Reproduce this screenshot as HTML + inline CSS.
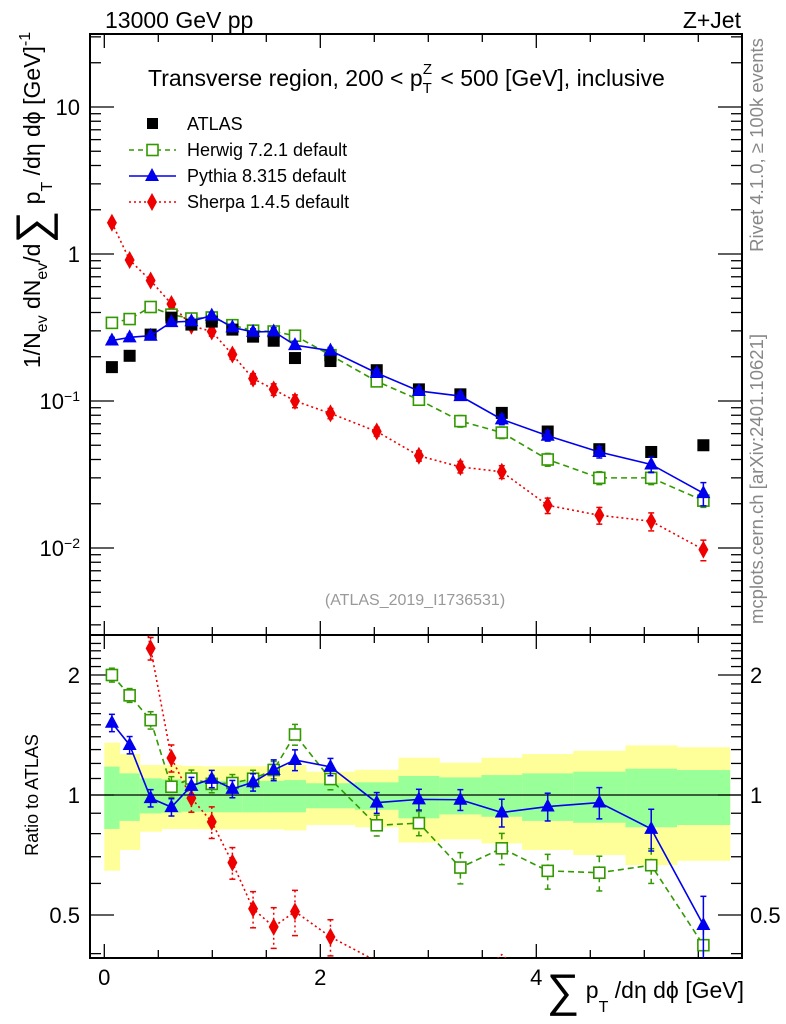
<!DOCTYPE html>
<html><head><meta charset="utf-8"><style>
html,body{margin:0;padding:0;background:#fff;width:786px;height:1024px;overflow:hidden;position:relative;}
svg{display:block;font-family:"Liberation Sans",sans-serif;}
</style></head><body>
<svg id="c" width="786" height="1024" viewBox="0 0 786 1024"></svg>
<script>
const edges=[0,0.141,0.328,0.530,0.713,0.9,1.09,1.282,1.473,1.664,1.867,2.321,2.724,3.102,3.492,3.869,4.342,4.825,5.303,5.791];
const atlas=[0.170,0.203,0.283,0.369,0.331,0.347,0.306,0.274,0.257,0.196,0.187,0.162,0.120,0.111,0.083,0.062,0.047,0.045,0.050];
const herwig=[0.340,0.361,0.436,0.387,0.364,0.370,0.328,0.301,0.297,0.278,0.205,0.136,0.102,0.073,0.061,0.040,0.030,0.030,0.021];
const pythia=[0.258,0.271,0.278,0.344,0.349,0.381,0.317,0.295,0.297,0.240,0.220,0.155,0.117,0.108,0.075,0.058,0.045,0.037,0.0236];
const sherpa=[1.63,0.91,0.66,0.457,0.325,0.297,0.207,0.142,0.120,0.100,0.0824,0.062,0.0424,0.0356,0.033,0.0195,0.0167,0.0152,0.00975];
const herwigErr=[0.04,0.04,0.05,0.06,0.05,0.05,0.05,0.05,0.05,0.06,0.06,0.06,0.07,0.09,0.09,0.10,0.10,0.10,0.10];
const pythiaErr=[0.05,0.05,0.05,0.05,0.05,0.05,0.05,0.05,0.06,0.06,0.05,0.06,0.06,0.06,0.08,0.08,0.09,0.12,0.18];
const sherpaErr=[0.05,0.05,0.05,0.06,0.06,0.07,0.07,0.08,0.09,0.10,0.08,0.07,0.08,0.09,0.10,0.12,0.13,0.14,0.16];
const bandYHi=[1.353,1.267,1.189,1.189,1.183,1.18,1.18,1.18,1.18,1.189,1.144,1.157,1.24,1.205,1.24,1.267,1.291,1.332,1.318];
const bandGHi=[1.178,1.133,1.101,1.095,1.086,1.085,1.085,1.085,1.085,1.09,1.07,1.076,1.116,1.107,1.122,1.133,1.144,1.164,1.155];
const bandGLo=[0.822,0.861,0.899,0.903,0.908,0.905,0.905,0.905,0.905,0.905,0.926,0.918,0.874,0.894,0.882,0.861,0.852,0.83,0.841];
const bandYLo=[0.646,0.728,0.809,0.822,0.822,0.82,0.82,0.82,0.82,0.815,0.841,0.83,0.76,0.774,0.756,0.728,0.707,0.667,0.684];
const xTicks=[0,2,4];
const yTicksTop=[10,1,0.1,0.01];
const yTickLabelsTop=["10","1","10<tspan dy='-8' font-size='14'>−1</tspan>","10<tspan dy='-8' font-size='14'>−2</tspan>"];
const yTicksRatio=[2,1,0.5];

const svg=document.getElementById('c');
const NS='http://www.w3.org/2000/svg';
const L=90,R=742,T1=34,B1=635,T2=635,B2=958;
const X=v=>104.3+108*v;
const Y1=v=>254-147*Math.log10(v);
const Y2=r=>795-120*Math.log2(r);
function mk(tag,attrs,parent){const e=document.createElementNS(NS,tag);for(const k in attrs)e.setAttribute(k,attrs[k]);(parent||svg).appendChild(e);return e;}
const mids=edges.slice(0,-1).map((e,i)=>(e+edges[i+1])/2);

const defs=mk('defs',{});
const cp1=mk('clipPath',{id:'cp1'},defs);mk('rect',{x:L,y:T1,width:R-L,height:B1-T1},cp1);
const cp2=mk('clipPath',{id:'cp2'},defs);mk('rect',{x:L,y:T2,width:R-L,height:B2-T2},cp2);

const gb=mk('g',{'clip-path':'url(#cp2)'});

for(let i=0;i<mids.length;i++){
  const x0=X(edges[i]),w=X(edges[i+1])-x0;
  const y=mk('rect',{x:x0,y:Y2(bandYHi[i]),width:w+0.5,height:Y2(bandYLo[i])-Y2(bandYHi[i]),fill:'#ffff99'},gb);
  
  const g=mk('rect',{x:x0,y:Y2(bandGHi[i]),width:w+0.5,height:Y2(bandGLo[i])-Y2(bandGHi[i]),fill:'#99ff99'},gb);
  
}
mk('line',{x1:L,x2:R,y1:Y2(1),y2:Y2(1),stroke:'#000','stroke-width':1.3});

const f1=mk('rect',{x:L,y:T1,width:R-L,height:B1-T1,fill:'none',stroke:'#000','stroke-width':2});

const f2=mk('rect',{x:L,y:T2,width:R-L,height:B2-T2,fill:'none',stroke:'#000','stroke-width':2});


for(let v=0;v<=5.9;v+=0.5){
  const maj=Math.abs(v-Math.round(v/2)*2)<1e-6;const len=maj?14:8;const x=X(v);
  [[T1,1],[B1,-1],[T2,1],[B2,-1]].forEach(([y,d])=>mk('line',{x1:x,x2:x,y1:y,y2:y+d*len,stroke:'#000','stroke-width':1.3}));
}
xTicks.forEach(v=>{const t=mk('text',{x:X(v),y:985,'font-size':22,'text-anchor':'middle'});t.textContent=v;
});

for(let d=-3;d<=1;d++)for(let m=1;m<=9;m++){
  const v=m*Math.pow(10,d);const y=Y1(v);if(y<T1||y>B1)continue;const len=m==1?24:11;
  mk('line',{x1:L,x2:L+len,y1:y,y2:y,stroke:'#000','stroke-width':1.3});
  mk('line',{x1:R,x2:R-len,y1:y,y2:y,stroke:'#000','stroke-width':1.3});
}
yTicksTop.forEach((v,i)=>{const t=mk('text',{x:80,y:Y1(v)+8,'font-size':22,'text-anchor':'end'});t.innerHTML=yTickLabelsTop[i];
});
for(let r=0.4;r<=2.5;r+=0.1){const y=Y2(r);if(y<T2||y>B2)continue;
  const maj=[0.5,1,2].some(q=>Math.abs(q-r)<1e-6);const len=maj?24:11;
  mk('line',{x1:L,x2:L+len,y1:y,y2:y,stroke:'#000','stroke-width':1.3});
  mk('line',{x1:R,x2:R-len,y1:y,y2:y,stroke:'#000','stroke-width':1.3});}
yTicksRatio.forEach(v=>{
  const t=mk('text',{x:80,y:Y2(v)+8,'font-size':22,'text-anchor':'end'});t.textContent=v;
  
  const t2=mk('text',{x:750,y:Y2(v)+8,'font-size':22});t2.textContent=v;
  });

function marker(type,x,y,g){
  if(type=='sq')return mk('rect',{x:x-6,y:y-6,width:12,height:12,fill:'#000'},g);
  if(type=='osq')return mk('rect',{x:x-5.5,y:y-5.5,width:11,height:11,fill:'#fff',stroke:'#339900','stroke-width':1.6},g);
  if(type=='tri')return mk('polygon',{points:`${x},${y-8} ${x-7},${y+5} ${x+7},${y+5}`,fill:'#0000ee'},g);
  return mk('polygon',{points:`${x},${y-9} ${x-5},${y} ${x},${y+9} ${x+5},${y}`,fill:'#ee0000'},g);
}
function series(vals,errs,ratio,color,dash,type,name,clip,Yf,ymax){
  const g=mk('g',{'clip-path':`url(#${clip})`});
  
  const vs=vals.map((v,i)=>ratio?v/atlas[i]:v);
  if(color){
    const pts=vs.map((v,i)=>X(mids[i])+','+Yf(v)).join(' ');
    mk('polyline',{points:pts,fill:'none',stroke:color,'stroke-width':1.6,'stroke-dasharray':dash},g);
    vs.forEach((v,i)=>{if(Yf(v)>ymax)return;const x=X(mids[i]);const y1=Yf(v*(1+errs[i])),y2=Yf(v*(1-errs[i]));
      mk('line',{x1:x,x2:x,y1:y1,y2:y2,stroke:color,'stroke-width':1.5,'stroke-dasharray':dash},g);
      mk('line',{x1:x-3,x2:x+3,y1:y1,y2:y1,stroke:color,'stroke-width':1.5},g);
      mk('line',{x1:x-3,x2:x+3,y1:y2,y2:y2,stroke:color,'stroke-width':1.5},g);});
  }
  vs.forEach((v,i)=>{if(Yf(v)>ymax)return;const m=marker(type,X(mids[i]),Yf(v),g);
    });
}
series(sherpa,sherpaErr,false,'#ee0000','2,3','dia','sherpa-series','cp1',Y1,B1);
series(herwig,herwigErr,false,'#339900','6,4','osq','herwig-series','cp1',Y1,B1);
series(atlas,null,false,null,null,'sq','atlas-data','cp1',Y1,B1);
series(pythia,pythiaErr,false,'#0000ee',null,'tri','pythia-series','cp1',Y1,B1);
series(sherpa,sherpaErr.map(e=>e*1.3),true,'#ee0000','2,3','dia','sherpa-ratio','cp2',Y2,B2-12);
series(herwig,herwigErr,true,'#339900','6,4','osq','herwig-ratio','cp2',Y2,B2);
series(pythia,pythiaErr,true,'#0000ee',null,'tri','pythia-ratio','cp2',Y2,B2);
</script>
<svg width="786" height="1024" style="position:absolute;left:0;top:0;font-family:'Liberation Sans',sans-serif">
<text x="105" y="28" font-size="23">13000 GeV pp</text>
<text x="741" y="28" font-size="23" text-anchor="end">Z+Jet</text>
<text x="148" y="86" font-size="23">Transverse region, 200 &lt; p<tspan font-size="15" dy="7">T</tspan><tspan font-size="15" dx="-9" dy="-19">Z</tspan><tspan dy="12" dx="2"> &lt; 500 [GeV], inclusive</tspan></text>
<g>
<rect x="147" y="118" width="11" height="11" fill="#000"/>
<text x="187" y="130" font-size="18">ATLAS</text>
<line x1="129" x2="176" y1="150" y2="150" stroke="#339900" stroke-width="1.5" stroke-dasharray="5,4"/>
<rect x="147" y="144.5" width="11" height="11" fill="#fff" stroke="#339900" stroke-width="1.6"/>
<text x="187" y="156" font-size="18">Herwig 7.2.1 default</text>
<line x1="129" x2="176" y1="176" y2="176" stroke="#0000ee" stroke-width="1.5"/>
<polygon points="152,168 145,181 159,181" fill="#0000ee"/>
<text x="187" y="182" font-size="18">Pythia 8.315 default</text>
<line x1="129" x2="176" y1="202" y2="202" stroke="#ee0000" stroke-width="1.5" stroke-dasharray="2,3"/>
<polygon points="152,193 147,202 152,211 157,202" fill="#ee0000"/>
<text x="187" y="208" font-size="18">Sherpa 1.4.5 default</text>
</g>
<text x="415" y="605" font-size="16" fill="#999" text-anchor="middle">(ATLAS_2019_I1736531)</text>
<text transform="translate(763,145) rotate(-90)" font-size="18.5" fill="#888" text-anchor="middle">Rivet 4.1.0, ≥ 100k events</text>
<text transform="translate(763,479) rotate(-90)" font-size="18.5" fill="#888" text-anchor="middle">mcplots.cern.ch [arXiv:2401.10621]</text>
<text transform="translate(40,200) rotate(-90)" font-size="23" text-anchor="middle">1/N<tspan font-size="16" dy="7">ev</tspan><tspan dy="-7"> dN</tspan><tspan font-size="16" dy="7">ev</tspan><tspan dy="-7">/d</tspan><tspan font-size="46" dy="8">∑</tspan><tspan dy="-8"> p</tspan><tspan font-size="16" dy="12">T</tspan><tspan dy="-12"> /dη dϕ  [GeV]</tspan><tspan font-size="16" dy="-10">-1</tspan></text>
<text transform="translate(38,795) rotate(-90)" font-size="18" text-anchor="middle">Ratio to ATLAS</text>
<text x="744" y="998" font-size="23" text-anchor="end"><tspan font-size="46" dy="8">∑</tspan><tspan dy="-8"> p</tspan><tspan font-size="16" dy="14">T</tspan><tspan dy="-14"> /dη dϕ [GeV]</tspan></text>
</svg>
</body></html>
